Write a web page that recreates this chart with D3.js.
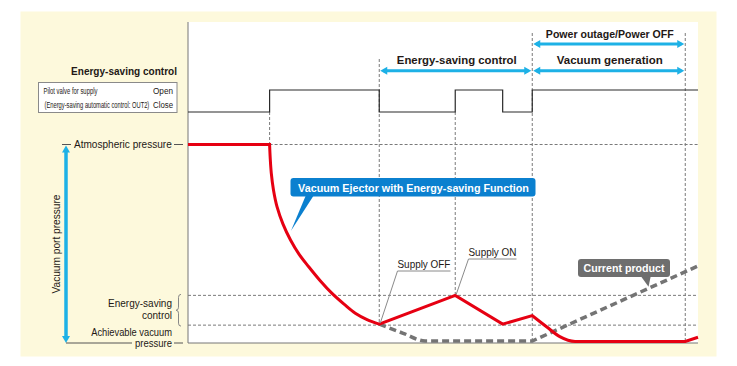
<!DOCTYPE html>
<html><head><meta charset="utf-8">
<script src="https://cdn.jsdelivr.net/npm/d3@7"></script>
<style>body{margin:0;background:#fff}svg{display:block}text{font-family:"Liberation Sans",Arial,Helvetica,sans-serif}</style>
</head><body><svg id="c" width="737" height="366"></svg>
<script>
// ---- data (time in arbitrary units 0..100, pressure as % of range: 0 = achievable vacuum, 100 = atmospheric)
const valveTimes = [0, 16, 37.5, 52.4, 61.7, 67.5, 100];
const valveStates = [0, 1, 0, 1, 0, 1, 1]; // 0 = Close, 1 = Open
const ejectorTimes = [0, 16, 16.12, 16.33, 16.76, 17.45, 18.63, 20.1, 21.76, 23.67, 25.88, 28.24, 30.59, 32.8, 35.1, 37.5, 52.4, 61.7, 67.5, 70.3, 72.9, 75.9, 97.5, 100];
const ejectorPressure = [100, 100, 93.2, 85.6, 77.1, 68.7, 59.9, 51.9, 44.8, 38.4, 31.5, 25.0, 19.6, 15.0, 11.8, 9.5, 24, 9.5, 13.8, 8.2, 3.2, 0.8, 0.8, 2.9];
const ejectorCorners = [16, 37.5, 52.4, 61.7, 67.5, 97.5];
const currentTimes = [37.5, 42.2, 46.5, 67.5, 100];
const currentPressure = [9.5, 4.9, 1.0, 1.0, 38.8];
const currentCorners = [67.5];
const levelValues = [100, 24, 9, 0]; // atmospheric, energy-saving high, energy-saving low, achievable vacuum
const phaseFrom = [37.5, 67.5, 67.5];
const phaseTo = [67.5, 97.5, 97.5];
const phaseLabels = ["Energy-saving control", "Vacuum generation", "Power outage/Power OFF"];
const phaseRows = [1, 1, 0];

const RED = "#e60012", CYAN = "#1db1e6", BLUE = "#0b80cf", GREY = "#6e6e6e", INK = "#231815", GUIDE = "#7a7a7a", CREAM = "#fdf9dc";
const svg = d3.select("#c");

const x = d3.scaleLinear().domain([0, 100]).range([188, 698]);
const yP = d3.scaleLinear().domain([0, 100]).range([343, 144.5]);
const yV = d3.scaleLinear().domain([0, 1]).range([112, 90]);
const rowY = [44, 70.7];

// backgrounds
svg.append("rect").attr("x", 20.5).attr("y", 11.5).attr("width", 696).attr("height", 345).attr("fill", CREAM);
svg.append("rect").attr("x", x(0)).attr("y", 22).attr("width", x(100) - x(0)).attr("height", yP(0) - 22).attr("fill", "#fff");

function txt(px, py, s, o = {}) {
  const t = svg.append("text").attr("x", px).attr("y", py).text(s)
    .attr("font-size", o.size || 10).attr("font-weight", o.weight || "normal")
    .attr("text-anchor", o.anchor || "start").attr("fill", o.fill || INK);
  if (o.len) t.attr("textLength", o.len).attr("lengthAdjust", "spacingAndGlyphs");
  if (o.transform) t.attr("transform", o.transform);
  return t;
}
// text horizontally scaled to a target width (condensed look)
function fit(px, py, s, w, o = {}) {
  const t = svg.append("text").attr("x", 0).attr("y", 0).text(s)
    .attr("font-size", o.size || 10).attr("font-weight", o.weight || "normal")
    .attr("text-anchor", o.anchor || "start").attr("fill", o.fill || INK);
  const k = w / t.node().getComputedTextLength();
  t.attr("transform", `translate(${px},${py}) scale(${k},1)`);
  return t;
}
function hline(x1, x2, yy, dashed, color) {
  return svg.append("line").attr("x1", x1).attr("x2", x2).attr("y1", yy).attr("y2", yy)
    .attr("stroke", color || GUIDE).attr("stroke-width", 1).attr("stroke-dasharray", dashed ? "3,2" : null);
}
function vline(xx, y1, y2, dashed, color) {
  return svg.append("line").attr("x1", xx).attr("x2", xx).attr("y1", y1).attr("y2", y2)
    .attr("stroke", color || GUIDE).attr("stroke-width", 1).attr("stroke-dasharray", dashed ? "3,2" : null);
}

// horizontal guides
hline(x(16), x(100), yP(levelValues[0]), true);
hline(x(0), x(100), yP(levelValues[1]), true);
hline(x(0), x(100), yP(levelValues[2]), true);

// vertical guides
const guides = [
  [16, yV(0), yP(100)], [37.5, 59, yP(9.5)], [52.4, yV(0), yP(24)], [67.5, 33, yP(0)], [97.5, 33, yP(0)]
];
guides.forEach(g => vline(x(g[0]), g[1], g[2], true));

// frame
vline(x(0), 22, yP(0), false, "#777");
hline(x(0), x(100), yP(0), false, "#777");

// valve signal
svg.append("path").attr("fill", "none").attr("stroke", "#2a2a2a").attr("stroke-width", 1.2)
  .attr("d", d3.line().curve(d3.curveStepAfter).x((d, i) => x(valveTimes[i])).y(d => yV(d))(valveStates));

// piecewise path helper (sharp corners at listed times, smooth elsewhere)
function piecewise(times, vals, corners, curveFor) {
  const pts = times.map((t, i) => [t, vals[i]]);
  const pieces = []; let cur = [pts[0]];
  for (let i = 1; i < pts.length; i++) {
    cur.push(pts[i]);
    if (corners.includes(pts[i][0]) && i < pts.length - 1) { pieces.push(cur); cur = [pts[i]]; }
  }
  pieces.push(cur);
  return pieces.map((p, i) => {
    const ln = d3.line().curve(curveFor(p)).x(d => x(d[0])).y(d => yP(d[1]));
    const d = ln(p); return i === 0 ? d : d.replace(/^M/, "L");
  }).join("");
}
const curveChooser = p => (p.length > 2 && p[p.length - 1][1] === p[p.length - 2][1]) ? d3.curveMonotoneX
  : (p.length > 2 ? d3.curveCatmullRom.alpha(0.5) : d3.curveLinear);

// current product (grey dashed)
svg.append("path").attr("fill", "none").attr("stroke", "#747474").attr("stroke-width", 3.5)
  .attr("stroke-dasharray", "7,4").attr("d", piecewise(currentTimes, currentPressure, currentCorners, curveChooser));
// ejector (red)
svg.append("path").attr("fill", "none").attr("stroke", RED).attr("stroke-width", 3)
  .attr("stroke-linejoin", "miter").attr("d", piecewise(ejectorTimes, ejectorPressure, ejectorCorners, curveChooser));

// phase arrows
function arrowH(x1, x2, yy) {
  const g = svg.append("g").attr("fill", CYAN);
  svg.append("line").attr("x1", x1 + 4).attr("x2", x2 - 4).attr("y1", yy).attr("y2", yy).attr("stroke", CYAN).attr("stroke-width", 3);
  g.append("path").attr("d", `M${x1 + 1},${yy} L${x1 + 8},${yy - 4} L${x1 + 8},${yy + 4} Z`);
  g.append("path").attr("d", `M${x2 - 1},${yy} L${x2 - 8},${yy - 4} L${x2 - 8},${yy + 4} Z`);
}
const phaseLen = [120, 106, 128];
phaseLabels.forEach((lab, i) => {
  const yy = rowY[phaseRows[i]];
  arrowH(x(phaseFrom[i]), x(phaseTo[i]), yy);
  fit((x(phaseFrom[i]) + x(phaseTo[i])) / 2 + 1, yy - 6.5, lab, phaseLen[i], { size: 11, weight: "bold", anchor: "middle" });
});

// left labels
fit(177, 74.5, "Energy-saving control", 106, { size: 10.5, weight: "bold", anchor: "end" });
svg.append("rect").attr("x", 38.5).attr("y", 82.5).attr("width", 138.5).attr("height", 30).attr("fill", "#fff").attr("stroke", "#8a8a8a");
fit(43.5, 93.5, "Pilot valve for supply", 54, { size: 9 });
fit(44.5, 107.5, "(Energy-saving automatic control: OUT2)", 105, { size: 9 });
fit(173, 94, "Open", 20, { size: 9.5, anchor: "end" });
fit(173, 108, "Close", 20, { size: 9.5, anchor: "end" });

// atmospheric pressure
hline(62, 71, yP(100), false, "#555");
fit(74, 148.3, "Atmospheric pressure", 98, { size: 10 });
hline(174, 183, yP(100), false, "#555");
svg.append("line").attr("x1", x(0)).attr("x2", x(16)).attr("y1", yP(100)).attr("y2", yP(100)).attr("stroke", RED).attr("stroke-width", 3);

// vertical blue arrow
svg.append("line").attr("x1", 66).attr("x2", 66).attr("y1", yP(100) + 5).attr("y2", yP(0) - 5).attr("stroke", CYAN).attr("stroke-width", 3.5);
svg.append("path").attr("fill", CYAN).attr("d", `M66,${yP(100) + 1} L70,${yP(100) + 8} L62,${yP(100) + 8} Z`);
svg.append("path").attr("fill", CYAN).attr("d", `M66,${yP(0)} L70,${yP(0) - 7} L62,${yP(0) - 7} Z`);
txt(0, 0, "Vacuum port pressure", { size: 10, anchor: "middle", len: 99, transform: `translate(60,244) rotate(-90)` });

// energy-saving control label + brace
fit(172, 306.5, "Energy-saving", 64, { size: 10, anchor: "end" });
txt(172, 319, "control", { size: 10, anchor: "end" });
const b1 = yP(levelValues[1]) - 1, b2 = yP(levelValues[2]) + 1, bm = (b1 + b2) / 2;
svg.append("path").attr("fill", "none").attr("stroke", "#888").attr("stroke-width", 1)
  .attr("d", `M181,${b1} Q178.5,${b1} 178.5,${b1 + 3} L178.5,${bm - 3} Q178.5,${bm} 176,${bm} Q178.5,${bm} 178.5,${bm + 3} L178.5,${b2 - 3} Q178.5,${b2} 181,${b2}`);
fit(172, 335.5, "Achievable vacuum", 81, { size: 10, anchor: "end" });
hline(66, 132, yP(0), false, "#555");
fit(172, 346.5, "pressure", 37, { size: 10, anchor: "end" });
hline(174, 183, yP(0), false, "#555");

// blue callout
svg.append("path").attr("fill", BLUE).attr("d", `M306,195 L314,195 L${x(20.2)},${yP(56.5)} Z`);
svg.append("rect").attr("x", 290.5).attr("y", 178).attr("width", 245).attr("height", 18.5).attr("rx", 3).attr("fill", BLUE);
fit(413.5, 191.5, "Vacuum Ejector with Energy-saving Function", 231, { size: 11, weight: "bold", anchor: "middle", fill: "#fff" });

// grey callout
svg.append("path").attr("fill", GREY).attr("d", `M640,275 L651,275 L${x(90.3)},${yP(28.4)} Z`);
svg.append("rect").attr("x", 578).attr("y", 259).attr("width", 92).attr("height", 18).attr("rx", 3).attr("fill", GREY);
fit(624, 272, "Current product", 81, { size: 11, weight: "bold", anchor: "middle", fill: "#fff" });

// supply labels
function supply(lab, lx, ly, w, t, p) {
  fit(lx, ly, lab, w, { size: 10 });
  svg.append("path").attr("fill", "none").attr("stroke", "#8a8a8a").attr("stroke-width", 1)
    .attr("d", `M${lx + w},${ly + 3} L${lx},${ly + 3} L${x(t) + 1},${yP(p) - 1}`);
}
supply("Supply OFF", 397.5, 268, 53, 37.5, 9.5);
supply("Supply ON", 468.5, 256, 48, 52.4, 24);
</script></body></html>
